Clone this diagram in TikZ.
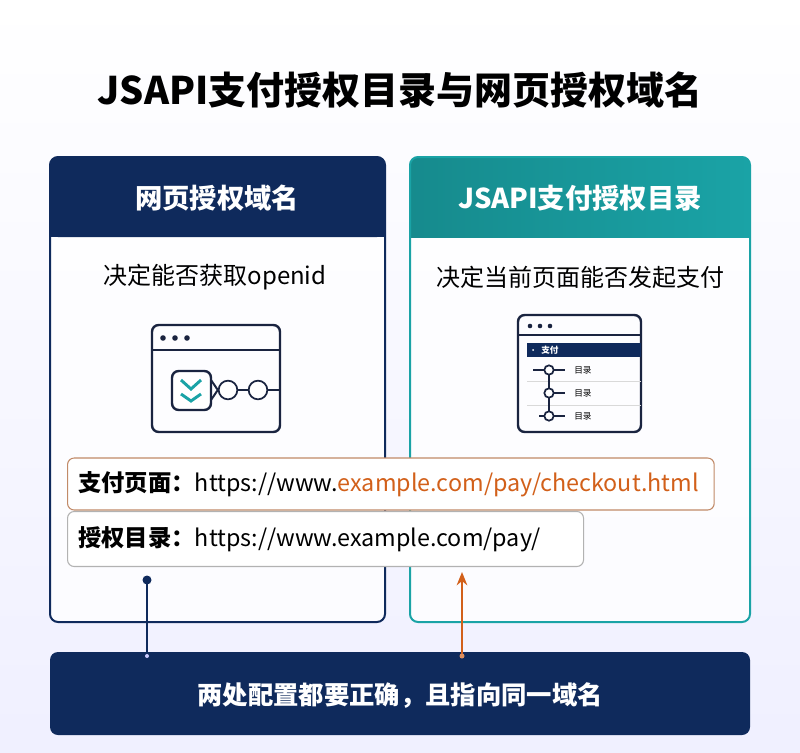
\documentclass[tikz,border=0pt]{standalone}
\usepackage{fontspec}
\setmainfont{Noto Sans CJK SC}
\usetikzlibrary{positioning,arrows.meta}
\definecolor{navy}{HTML}{0F2A5C}
\definecolor{tealc}{HTML}{1AA3A6}
\definecolor{orng}{HTML}{D2601A}
\definecolor{ink}{HTML}{1A2440}
\tikzset{
  panel/.style={draw, line width=1.5pt, rounded corners=6pt},
  urlbox/.style={draw=gray!60, fill=white, rounded corners=5pt, line width=0.8pt, anchor=west, inner xsep=8pt, align=left, font=\fontsize{17.5}{20}\selectfont},
  icon/.style={draw=ink, line width=1.8pt, rounded corners=5pt},
  knot/.style={circle, draw=ink, fill=white, line width=1.3pt, inner sep=0pt, minimum size=#1},
}
\begin{document}
\begin{tikzpicture}[x=0.75pt, y=-0.75pt]
    \useasboundingbox (0,0) rectangle (800,753);
    \shade[top color=white, bottom color=blue!6] (0,0) rectangle (800,753);

    % Title
    \node (title) at (400,90) {\fontsize{28.5}{32}\selectfont\bfseries JSAPI支付授权目录与网页授权域名};

    % Left panel
    \fill[white, opacity=0.8, rounded corners=6pt] (50,157) rectangle (385,622);
    \fill[navy, rounded corners=6pt] (50,157) rectangle (385,237);
    \fill[navy] (50,220) rectangle (385,237);
    \draw[panel, draw=navy] (50,157) rectangle (385,622);
    \node[text=white] (lhead) at (217,198) {\fontsize{20.5}{22}\selectfont\bfseries 网页授权域名};
    \node (ldesc) at (215,277) {\fontsize{18}{20}\selectfont 决定能否获取openid};

    % Right panel
    \fill[white, opacity=0.8, rounded corners=6pt] (410,157) rectangle (750,622);
    \shade[left color=tealc!85!black, right color=tealc, rounded corners=6pt] (410,157) rectangle (750,237);
    \shade[left color=tealc!85!black, right color=tealc] (410,220) rectangle (750,237);
    \draw[panel, draw=tealc] (410,157) rectangle (750,622);
    \node[text=white] (rhead) at (580,198) {\fontsize{20.5}{22}\selectfont\bfseries JSAPI支付授权目录};
    \node (rdesc) at (580,277) {\fontsize{18}{20}\selectfont 决定当前页面能否发起支付};

    % Left icon: browser with check box
    \draw[icon] (152,325) rectangle (280,432);
    \draw[ink, line width=1.8pt] (152,350) -- (280,350);
    \foreach \dx in {163,175,187}
        \fill[ink] (\dx,338) circle (2.8);
    \draw[icon, fill=white] (172,371) rectangle (211,410);
    \draw[tealc, line width=2.2pt] (181,380) -- (191,389) -- (201,380);
    \draw[tealc, line width=2.2pt] (181,394) -- (191,401) -- (201,394);
    \node[knot=14] (k1) at (228,390) {};
    \node[knot=14] (k2) at (258,390) {};
    \coordinate (kend) at (280,390);
    \draw[ink, line width=1.5pt] (211,380) -- (k1.west) (211,400) -- (k1.west);
    \draw[ink, line width=1.5pt] (k1) -- (k2) -- (kend);

    % Right icon: browser with menu tree
    \draw[icon] (518,315) rectangle (641,432);
    \draw[ink, line width=1.8pt] (518,335) -- (641,335);
    \foreach \dx in {530,540,550}
        \fill[ink] (\dx,326) circle (2.3);
    \fill[navy] (527,343) rectangle (641,357);
    \fill[white] (533,350) circle (1);
    \node[text=white, anchor=west, inner sep=0pt] (pay) at (541,350) {\fontsize{6.5}{7}\selectfont\bfseries 支付};
    \foreach \ry in {370,393,416} {
        \node[anchor=west, inner sep=0pt] at (574,\ry) {\fontsize{6.5}{7}\selectfont 目录};
    }
    \draw[gray!30] (527,381) -- (641,381) (527,405) -- (641,405);
    \draw[ink, line width=1.2pt] (549,370) -- (549,416);
    \draw[ink, line width=1.2pt] (533,370) -- (565,370) (549,393) -- (565,393) (539,416) -- (565,416);
    \foreach \ry in {370,393,416}
        \node[knot=7] at (549,\ry) {};

    % URL boxes
    \node[urlbox, text width=469pt, minimum height=52*0.75pt, draw=orng!60!gray!80] (page) at (67,484)
        {\bfseries 支付页面：\mdseries https://www.\textcolor{orng}{example.com/pay/checkout.html}};
    \node[urlbox, text width=371pt, minimum height=55*0.75pt] (dir) at (67,539)
        {\bfseries 授权目录：\mdseries https://www.example.com/pay/};

    % Bottom bar
    \fill[navy, rounded corners=6pt] (50,652) rectangle (750,735);
    \node[text=white] (note) at (400,696) {\fontsize{19}{21}\selectfont\bfseries 两处配置都要正确，且指向同一域名};

    % Connectors
    \coordinate (ldot) at (147,580);
    \coordinate (lfoot) at (147,656);
    \coordinate (rfoot) at (462,656);
    \coordinate (rtip) at (462,572);
    \fill[navy] (ldot) circle (4.5);
    \draw[navy, line width=1.3pt] (ldot) -- (lfoot);
    \fill[blue!20] (lfoot) circle (2);
    \draw[orng, line width=1.3pt, -{Stealth[length=10pt, width=8pt]}] (rfoot) -- (rtip);
    \fill[orng!70] (rfoot) circle (2.5);
\end{tikzpicture}
\end{document}
